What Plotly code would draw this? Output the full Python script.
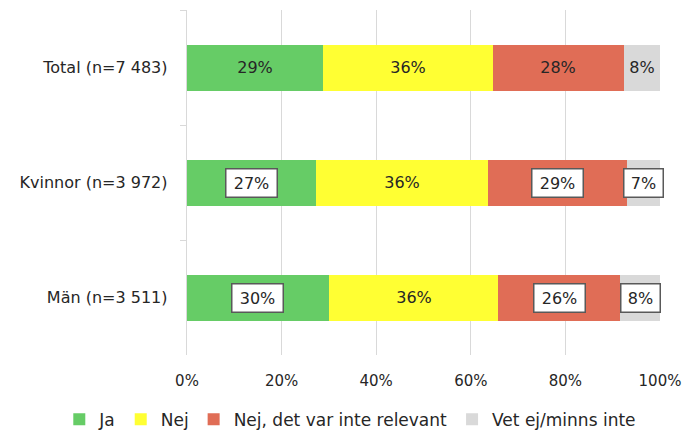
import plotly.graph_objects as go

categories = ["Total (n=7 483)", "Kvinnor (n=3 972)", "Män (n=3 511)"]
series_names = ["Ja", "Nej", "Nej, det var inte relevant", "Vet ej/minns inte"]
ja = [28.7, 27.3, 30.0]
nej = [36.0, 36.4, 35.8]
nej_rel = [27.6, 29.3, 25.8]
vet_ej = [7.8, 7.0, 8.4]
labels = [
    ["29%", "27%", "30%"],
    ["36%", "36%", "36%"],
    ["28%", "29%", "26%"],
    ["8%", "7%", "8%"],
]
boxed = [
    [False, True, True],
    [False, False, False],
    [False, True, True],
    [False, True, True],
]
colors = ["#66CC66", "#FFFF33", "#E06D56", "#D9D9D9"]
FONT = "DejaVu Sans, sans-serif"

series = [ja, nej, nej_rel, vet_ej]
fig = go.Figure()
for name, vals, col in zip(series_names, series, colors):
    fig.add_trace(go.Bar(
        y=categories, x=vals, name=name, orientation="h",
        marker=dict(color=col, line=dict(width=0)),
        hoverinfo="skip",
    ))

annotations = []
for si, vals in enumerate(series):
    for ci, cat in enumerate(categories):
        start = sum(series[k][ci] for k in range(si))
        center = start + vals[ci] / 2
        b = boxed[si][ci]
        annotations.append(dict(
            x=center, y=cat, xref="x", yref="y", text=labels[si][ci],
            showarrow=False, font=dict(family=FONT, size=16, color="#262626"),
            bgcolor="white" if b else "rgba(0,0,0,0)",
            bordercolor="#595959" if b else "rgba(0,0,0,0)",
            borderwidth=1.5 if b else 0, borderpad=4,
            width=42 if len(labels[si][ci]) == 3 else 30,
        ))

fig.update_layout(
    barmode="stack",
    bargap=0.6,
    width=685, height=435,
    margin=dict(l=187, r=25, t=10, b=80, autoexpand=False),
    paper_bgcolor="white", plot_bgcolor="white",
    font=dict(family=FONT, size=15, color="#262626"),
    showlegend=True,
    legend=dict(orientation="h", x=-0.27, xanchor="left", xref="paper",
                y=-0.135, yanchor="top", yref="paper",
                bgcolor="rgba(0,0,0,0)",
                font=dict(family=FONT, size=17, color="#262626"),
                traceorder="normal", itemwidth=30),
    annotations=annotations,
    xaxis=dict(range=[0, 100], dtick=20, ticksuffix="%", showgrid=True,
               gridcolor="#D9D9D9", gridwidth=1, zeroline=False, showline=False,
               ticks="outside", ticklen=12, tickcolor="rgba(0,0,0,0)",
               tickfont=dict(family=FONT, size=15, color="#262626")),
    yaxis=dict(autorange="reversed", showline=True, linecolor="#D9D9D9", linewidth=1,
               ticks="outside", tickson="boundaries", ticklen=6, tickcolor="#D9D9D9",
               showgrid=False, ticksuffix="   ",
               tickfont=dict(family=FONT, size=16, color="#262626")),
)
fig.write_html("out.html")
